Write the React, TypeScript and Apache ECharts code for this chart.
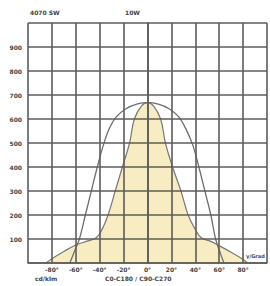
import React, { useEffect, useRef } from "react";
import * as echarts from "echarts";

const xTicks = [-100, -80, -60, -40, -20, 0, 20, 40, 60, 80, 100];
const yTicks = [0, 100, 200, 300, 400, 500, 600, 700, 800, 900, 1000];

// wide distribution (outline only)
const wideAngles = [-65, -61, -57, -52, -47, -42, -37, -32, -26, -18, -9, 0, 9, 18, 26, 32, 38, 43, 48, 53, 57, 61, 64];
const wideValues = [0, 50, 100, 200, 300, 400, 490, 560, 610, 643, 662, 668, 662, 643, 610, 560, 490, 400, 300, 200, 100, 40, 0];

// narrow distribution (filled)
const narrowAngles = [-85, -80, -70, -60, -50, -43, -38, -33, -27, -21, -15, -11, -5, 0, 5, 11, 15, 21, 28, 34, 40, 45, 52, 60, 70, 80, 84];
const narrowValues = [0, 18, 48, 75, 92, 105, 140, 200, 300, 400, 500, 600, 655, 668, 655, 600, 500, 400, 300, 200, 140, 105, 92, 72, 45, 15, 0];

const headerLeft = "4070 SW";
const headerRight = "10W";
const footerLeft = "cd/klm";
const footerRight = "C0-C180 / C90-C270";
const axisUnit = "γ/Grad";

function pairs(xs: number[], ys: number[]) {
  return xs.map((x, i) => [x, ys[i]]);
}

export default function App() {
  const ref = useRef<HTMLDivElement>(null);
  useEffect(() => {
    if (!ref.current) return;
    const chart = echarts.init(ref.current, null, { renderer: "svg" });
    const gridColor = "#5c5c5c";
    const labelStyle = { fontSize: 6, fontWeight: "bold" as const, color: "#444", fontFamily: "DejaVu Sans" };
    chart.setOption({
      animation: false,
      backgroundColor: "#fff",
      grid: { left: 28, right: 2, top: 23, bottom: 23, show: false },
      xAxis: {
        type: "value",
        min: -100,
        max: 100,
        interval: 20,
        z: 5,
        axisLine: { show: true, lineStyle: { color: gridColor, width: 1.6 } },
        axisTick: { show: false },
        splitLine: { show: true, lineStyle: { color: gridColor, width: 1.6 } },
        axisLabel: {
          ...labelStyle,
          margin: 3,
          formatter: (v: number) => (v === xTicks[0] || v === xTicks[xTicks.length - 1] ? "" : String(v) + "°"),
        },
      },
      yAxis: {
        type: "value",
        min: 0,
        max: 1000,
        interval: 100,
        z: 5,
        axisLine: { show: true, lineStyle: { color: gridColor, width: 1.6 } },
        axisTick: { show: false },
        splitLine: { show: true, lineStyle: { color: gridColor, width: 1.6 } },
        axisLabel: {
          ...labelStyle,
          margin: 6,
          formatter: (v: number) => (v === yTicks[0] || v === yTicks[yTicks.length - 1] ? "" : String(v)),
        },
      },
      series: [
        {
          type: "line",
          data: pairs(narrowAngles, narrowValues),
          smooth: 0.4,
          symbol: "none",
          z: 2,
          lineStyle: { color: "#777", width: 1.2 },
          areaStyle: { color: "#f8ecc2", opacity: 1 },
        },
        {
          type: "line",
          data: pairs(wideAngles, wideValues),
          smooth: 0.3,
          symbol: "none",
          z: 3,
          lineStyle: { color: "#6e6e6e", width: 1.3 },
        },
      ],
      graphic: [
        { type: "text", left: 30, top: 9, style: { text: headerLeft, ...labelStyle, fill: "#444", fontSize: 6 } },
        { type: "text", left: 125, top: 9, style: { text: headerRight, ...labelStyle, fill: "#444", fontSize: 6 } },
        { type: "text", left: 35, top: 275, style: { text: footerLeft, ...labelStyle, fill: "#444", fontSize: 6 } },
        { type: "text", left: 105, top: 275, style: { text: footerRight, ...labelStyle, fill: "#444", fontSize: 6 } },
        { type: "text", left: 246, top: 253, style: { text: axisUnit, ...labelStyle, fill: "#444", fontSize: 5 } },
      ],
    });
    return () => chart.dispose();
  }, []);
  return <div ref={ref} style={{ position: "fixed", left: 0, top: 0, width: 270, height: 286 }} />;
}
